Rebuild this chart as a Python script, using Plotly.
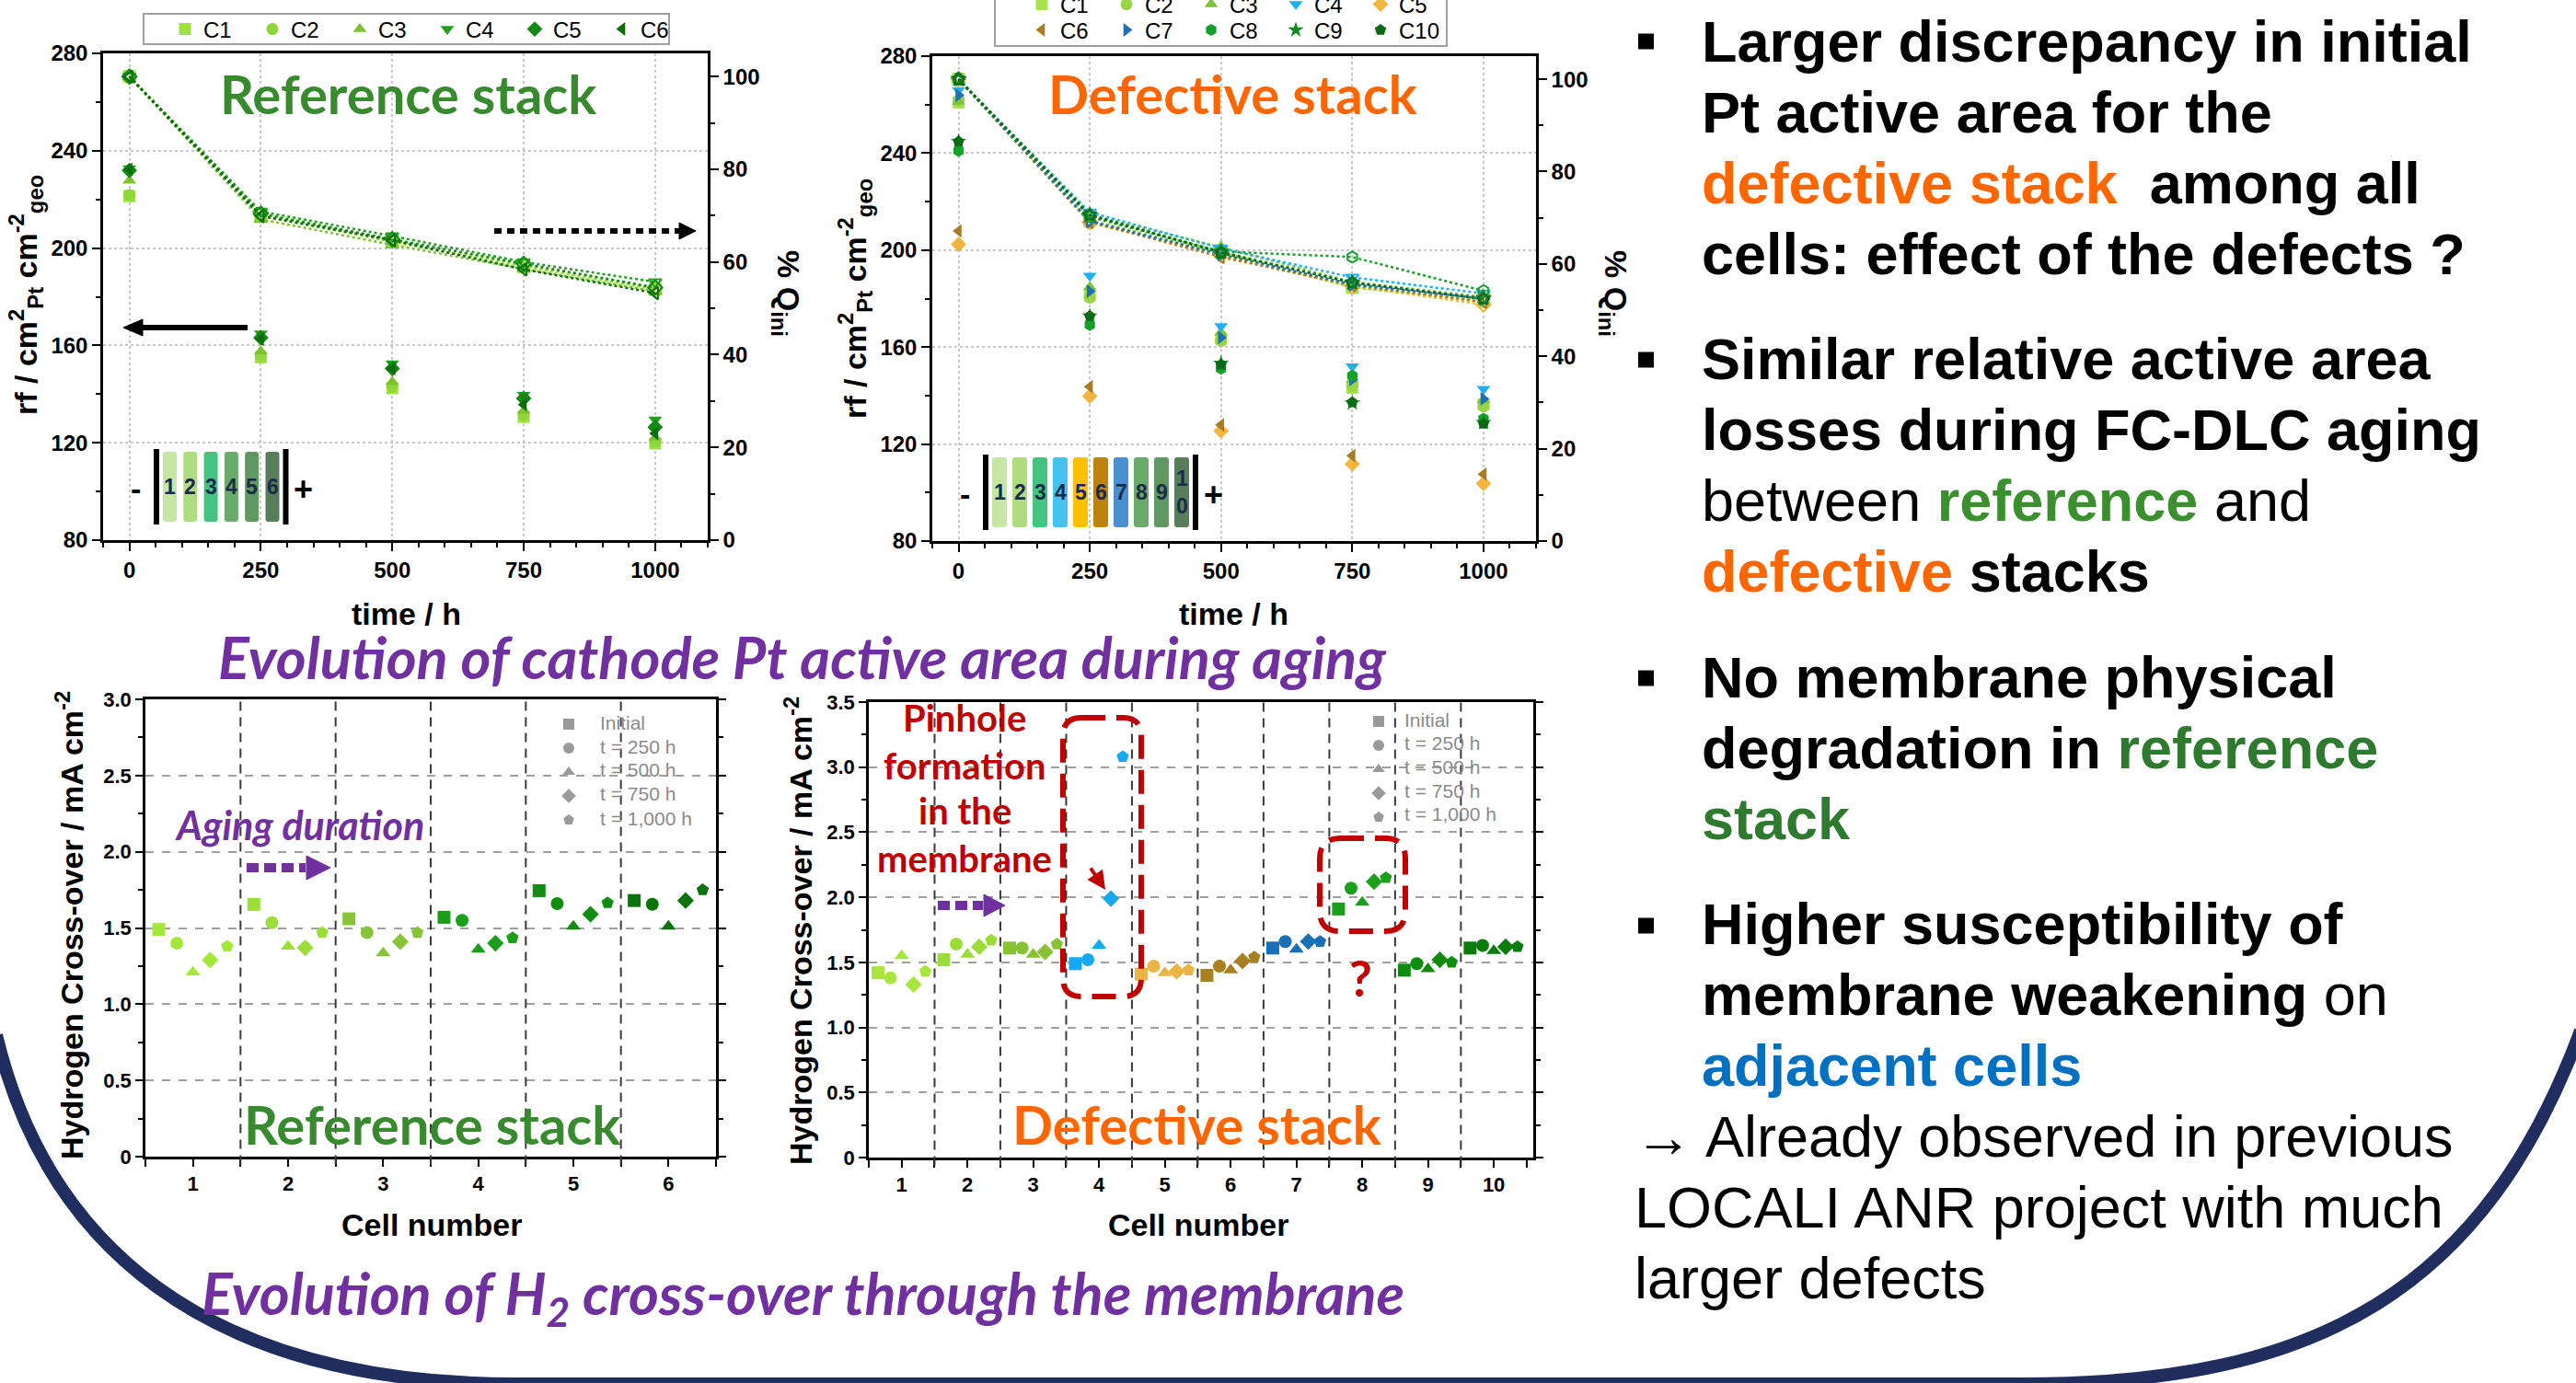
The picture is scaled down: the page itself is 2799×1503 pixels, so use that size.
import plotly.graph_objects as go

W, H = 2799, 1503

# ---------------- data : cathode Pt active area ----------------
time_h = [0, 250, 500, 750, 1000]

ref_names = ["C1", "C2", "C3", "C4", "C5", "C6"]
ref_rf_c1 = [221.3, 155.1, 142.4, 130.6, 119.7]
ref_rf_c2 = [221.8, 155.9, 143.3, 131.5, 120.5]
ref_rf_c3 = [227.7, 157.6, 145.0, 133.2, 122.2]
ref_rf_c4 = [232.7, 164.9, 152.6, 139.6, 129.5]
ref_rf_c5 = [231.9, 163.2, 150.5, 138.2, 126.4]
ref_rf_c6 = [232.4, 162.5, 150.4, 135.7, 123.9]
ref_q_c1 = [100, 70.0, 64.3, 59.0, 54.1]
ref_q_c2 = [100, 70.3, 64.6, 59.3, 54.3]
ref_q_c3 = [100, 69.2, 63.7, 58.5, 53.7]
ref_q_c4 = [100, 70.9, 65.6, 60.0, 55.7]
ref_q_c5 = [100, 70.4, 64.9, 59.6, 54.5]
ref_q_c6 = [100, 69.9, 64.7, 58.4, 53.3]

def_names = ["C1", "C2", "C3", "C4", "C5", "C6", "C7", "C8", "C9", "C10"]
def_rf_c1 = [260.9, 181.3, 163.5, 143.2, 136.4]
def_rf_c2 = [261.7, 180.4, 162.6, 144.0, 135.5]
def_rf_c3 = [261.2, 184.7, 166.0, 146.6, 138.1]
def_rf_c4 = [266.0, 189.4, 168.6, 152.0, 142.7]
def_rf_c5 = [202.4, 139.8, 125.4, 111.8, 103.7]
def_rf_c6 = [207.9, 143.7, 127.9, 115.2, 107.6]
def_rf_c7 = [263.9, 183.0, 164.0, 146.6, 138.6]
def_rf_c8 = [240.9, 169.1, 151.1, 148.2, 130.5]
def_rf_c9 = [244.8, 172.8, 153.3, 136.9, 128.8]
def_rf_c10 = [244.8, 172.8, 152.8, 137.2, 128.4]
def_q_c1 = [100, 69.5, 62.7, 54.9, 52.3]
def_q_c2 = [100, 68.9, 62.1, 55.0, 51.8]
def_q_c3 = [100, 70.7, 63.6, 56.1, 52.9]
def_q_c4 = [100, 71.2, 63.4, 57.1, 53.6]
def_q_c5 = [100, 69.1, 62.0, 55.2, 51.2]
def_q_c6 = [100, 69.1, 61.5, 55.4, 51.8]
def_q_c7 = [100, 69.3, 62.1, 55.6, 52.5]
def_q_c8 = [100, 70.2, 62.7, 61.5, 54.2]
def_q_c9 = [100, 70.6, 62.6, 55.9, 52.6]
def_q_c10 = [100, 70.6, 62.4, 56.0, 52.4]

# ---------------- data : H2 cross-over ----------------
h2_labels = ["Initial", "t = 250 h", "t = 500 h", "t = 750 h", "t = 1,000 h"]
cells_ref = [1, 2, 3, 4, 5, 6]
ref_h2_initial = [1.49, 1.655, 1.56, 1.57, 1.745, 1.68]
ref_h2_250 = [1.40, 1.535, 1.47, 1.55, 1.66, 1.655]
ref_h2_500 = [1.21, 1.38, 1.335, 1.36, 1.51, 1.51]
ref_h2_750 = [1.29, 1.37, 1.41, 1.40, 1.59, 1.68]
ref_h2_1000 = [1.38, 1.47, 1.47, 1.435, 1.665, 1.75]

cells_def = [1, 2, 3, 4, 5, 6, 7, 8, 9, 10]
def_h2_initial = [1.42, 1.52, 1.61, 1.49, 1.41, 1.40, 1.61, 1.91, 1.44, 1.61]
def_h2_250 = [1.38, 1.64, 1.61, 1.52, 1.47, 1.47, 1.66, 2.07, 1.49, 1.63]
def_h2_500 = [1.55, 1.56, 1.56, 1.63, 1.42, 1.44, 1.60, 1.96, 1.45, 1.59]
def_h2_750 = [1.33, 1.62, 1.58, 1.99, 1.43, 1.51, 1.66, 2.12, 1.52, 1.62]
def_h2_1000 = [1.43, 1.67, 1.64, 3.08, 1.44, 1.54, 1.66, 2.15, 1.50, 1.62]

# ---------------- styles ----------------
FA = "Liberation Sans, Arial, sans-serif"
FC = "Lato, Carlito, Calibri, sans-serif"
PURPLE = "#7030A0"
RED = "#C00000"
ORANGE = "#FF6600"
NAVY = "#1F2D5F"
GRAY_TXT = '#8a8a8a'

ref_colors = ['#9ee33c', '#8fd63a', '#7cc22e', '#1fa01f', '#118a11', '#0b6e0b']
ref_symbols = ['square', 'circle', 'triangle-up', 'triangle-down', 'diamond', 'triangle-left']
def_colors = ['#a6e34d', '#98d444', '#7cc53a', '#1eb0f3', '#f2b640', '#a87c26',
              '#1f6fb7', '#16a02b', '#0f8c1f', '#0a6b14']
def_symbols = ['square', 'circle', 'triangle-up', 'triangle-down', 'diamond', 'triangle-left',
               'triangle-right', 'hexagon', 'star', 'pentagon']
ref_cell_colors = ['#a4e83a', '#9cdf3a', '#88c43a', '#1c9e1c', '#128c12', '#0c720c']
def_cell_colors = ['#a8e63c', '#9cdc3a', '#86c234', '#16a8f0', '#ebb545', '#a8801e',
                   '#1a6fb5', '#1ca01c', '#0e8c0e', '#0c7a0c']
h2_symbols = ['square', 'circle', 'triangle-up', 'diamond', 'pentagon']
h2_offsets = [-0.36, -0.17, 0.0, 0.18, 0.36]


def px(x):
    return x / W


def py(y):
    return 1 - y / H


def P(x, y):
    return f"{x / W:.5f},{1 - y / H:.5f}"


fig = go.Figure()

# ---- top-left : reference stack ----
ref_rf = [ref_rf_c1, ref_rf_c2, ref_rf_c3, ref_rf_c4, ref_rf_c5, ref_rf_c6]
ref_q = [ref_q_c1, ref_q_c2, ref_q_c3, ref_q_c4, ref_q_c5, ref_q_c6]
for i, nm in enumerate(ref_names):
    c = ref_colors[i]
    fig.add_trace(go.Scatter(x=time_h, y=ref_q[i], xaxis='x', yaxis='y2', mode='lines+markers',
                             line=dict(color=c, width=2.5, dash='dot'),
                             marker=dict(symbol=ref_symbols[i] + '-open', size=12, color=c,
                                         line=dict(width=2, color=c)),
                             showlegend=False, name=nm))
for i, nm in enumerate(ref_names):
    c = ref_colors[i]
    fig.add_trace(go.Scatter(x=time_h, y=ref_rf[i], xaxis='x', yaxis='y', mode='markers',
                             marker=dict(symbol=ref_symbols[i], size=13, color=c),
                             name=nm, legend='legend'))

# ---- top-middle : defective stack ----
def_rf = [def_rf_c1, def_rf_c2, def_rf_c3, def_rf_c4, def_rf_c5, def_rf_c6, def_rf_c7,
          def_rf_c8, def_rf_c9, def_rf_c10]
def_q = [def_q_c1, def_q_c2, def_q_c3, def_q_c4, def_q_c5, def_q_c6, def_q_c7,
         def_q_c8, def_q_c9, def_q_c10]
for i, nm in enumerate(def_names):
    c = def_colors[i]
    fig.add_trace(go.Scatter(x=time_h, y=def_q[i], xaxis='x2', yaxis='y4', mode='lines+markers',
                             line=dict(color=c, width=2.5, dash='dot'),
                             marker=dict(symbol=def_symbols[i] + '-open', size=12, color=c,
                                         line=dict(width=2, color=c)),
                             showlegend=False, name=nm))
for i, nm in enumerate(def_names):
    c = def_colors[i]
    fig.add_trace(go.Scatter(x=time_h, y=def_rf[i], xaxis='x2', yaxis='y3', mode='markers',
                             marker=dict(symbol=def_symbols[i], size=13, color=c),
                             name=nm, legend='legend2' if i < 5 else 'legend3'))

# ---- bottom : H2 crossover ----
ref_h2 = [ref_h2_initial, ref_h2_250, ref_h2_500, ref_h2_750, ref_h2_1000]
def_h2 = [def_h2_initial, def_h2_250, def_h2_500, def_h2_750, def_h2_1000]
for k in range(5):
    fig.add_trace(go.Scatter(x=[c + h2_offsets[k] for c in cells_ref], y=ref_h2[k],
                             xaxis='x3', yaxis='y5', mode='markers',
                             marker=dict(symbol=h2_symbols[k], size=14, color=ref_cell_colors),
                             showlegend=False, name=h2_labels[k]))
    fig.add_trace(go.Scatter(x=[c + h2_offsets[k] for c in cells_def], y=def_h2[k],
                             xaxis='x4', yaxis='y6', mode='markers',
                             marker=dict(symbol=h2_symbols[k], size=14, color=def_cell_colors),
                             showlegend=False, name=h2_labels[k]))
# gray legend symbols (labels are written next to them as annotations)
for k in range(5):
    for lg, xa, ya in (('legend4', 'x3', 'y5'), ('legend5', 'x4', 'y6')):
        fig.add_trace(go.Scatter(x=[None], y=[None], xaxis=xa, yaxis=ya, mode='markers',
                                 marker=dict(symbol=h2_symbols[k], size=12, color='#9a9a9a'),
                                 name='', legend=lg))

# ---------------- axes ----------------
tickf_top = dict(family=FA, size=24, color='black', weight='bold')
tickf_bot = dict(family=FA, size=22, color='black', weight='bold')
AX = dict(showline=True, linecolor='black', linewidth=2.5, ticks='outside', tickcolor='black',
          tickwidth=2, zeroline=False)


def top_x(dom, anchor):
    return dict(AX, domain=dom, anchor=anchor, range=[-50, 1100], tickvals=time_h,
                ticklen=9, tickfont=tickf_top, mirror=True, showgrid=True, gridcolor='#c8c8c8',
                griddash='dot', gridwidth=1.5,
                minor=dict(dtick=50, tick0=0, ticklen=5, ticks='outside', tickcolor='black',
                           tickwidth=2, showgrid=False))


def top_y(dom, anchor):
    return dict(AX, domain=dom, anchor=anchor, range=[80, 280], tickvals=[80, 120, 160, 200, 240, 280],
                ticklen=9, tickfont=tickf_top, showgrid=True, gridcolor='#c8c8c8', griddash='dot',
                gridwidth=1.5,
                minor=dict(dtick=20, tick0=80, ticklen=5, ticks='outside', tickcolor='black',
                           tickwidth=2, showgrid=False))


def top_y_right(over, anchor):
    return dict(AX, overlaying=over, side='right', anchor=anchor, range=[0, 105],
                tickvals=[0, 20, 40, 60, 80, 100], ticklen=9, tickfont=tickf_top, showgrid=False,
                minor=dict(dtick=10, tick0=0, ticklen=5, ticks='outside', tickcolor='black',
                           tickwidth=2, showgrid=False))


def bot_x(dom, anchor, n, hi):
    return dict(AX, domain=dom, anchor=anchor, range=[0.5, hi], tickvals=list(range(1, n + 1)),
                ticklen=8, tickfont=tickf_bot, mirror=True, showgrid=False,
                minor=dict(dtick=1, tick0=0.5, ticklen=8, ticks='outside', tickcolor='black',
                           tickwidth=2, showgrid=False))


def bot_y(dom, anchor, top):
    vals = [v / 2 for v in range(0, int(top * 2) + 1)]
    txt = ['0' if v == 0 else f"{v:.1f}" for v in vals]
    return dict(AX, domain=dom, anchor=anchor, range=[0, top], tickvals=vals, ticktext=txt,
                ticklen=8, tickfont=tickf_bot, mirror='ticks', showgrid=True, gridcolor='#a0a0a0',
                griddash='dash', gridwidth=1.5,
                minor=dict(dtick=0.25, tick0=0, ticklen=5, ticks='outside', tickcolor='black',
                           tickwidth=2, showgrid=False))


layout = dict(
    width=W, height=H, margin=dict(l=0, r=0, t=0, b=0, autoexpand=False),
    paper_bgcolor='white', plot_bgcolor='white',
    xaxis=top_x([px(112), px(769)], 'y'),
    yaxis=top_y([py(587), py(58)], 'x'),
    yaxis2=top_y_right('y', 'x'),
    xaxis2=top_x([px(1013), px(1669)], 'y3'),
    yaxis3=top_y([py(588), py(61)], 'x2'),
    yaxis4=top_y_right('y3', 'x2'),
    xaxis3=bot_x([px(158), px(778)], 'y5', 6, 6.5),
    yaxis5=bot_y([py(1257), py(760)], 'x3', 3.0),
    xaxis4=bot_x([px(944), px(1666)], 'y6', 10, 10.6),
    yaxis6=bot_y([py(1258), py(763)], 'x4', 3.5),
)

leg_common = dict(bgcolor='rgba(0,0,0,0)', borderwidth=0, font=dict(family=FA, size=24, color='black'),
                  orientation='h', entrywidthmode='pixels', xanchor='left', yanchor='middle',
                  tracegroupgap=0, xref='container', yref='container')
layout['legend'] = dict(leg_common, x=px(181), y=py(32), entrywidth=50)
layout['legend2'] = dict(leg_common, x=px(1112), y=py(5), entrywidth=47)
layout['legend3'] = dict(leg_common, x=px(1112), y=py(33), entrywidth=47)
leg_gray = dict(bgcolor='rgba(0,0,0,0)', borderwidth=0, font=dict(family=FA, size=17.7, color=GRAY_TXT),
                orientation='v', xanchor='left', yanchor='top', tracegroupgap=0,
                xref='container', yref='container')
layout['legend4'] = dict(leg_gray, x=px(598), y=py(769))
layout['legend5'] = dict(leg_gray, x=px(1478), y=py(766))
fig.update_layout(**layout)

# ---------------- shapes ----------------
shapes = []


def rrect(x0, y0, x1, y1, r):
    return (f"M {P(x0 + r, y0)} L {P(x1 - r, y0)} Q {P(x1, y0)} {P(x1, y0 + r)} "
            f"L {P(x1, y1 - r)} Q {P(x1, y1)} {P(x1 - r, y1)} L {P(x0 + r, y1)} "
            f"Q {P(x0, y1)} {P(x0, y1 - r)} L {P(x0, y0 + r)} Q {P(x0, y0)} {P(x0 + r, y0)} Z")


def line_px(x0, y0, x1, y1, color, width, dash='solid'):
    return dict(type='line', xref='paper', yref='paper', x0=px(x0), y0=py(y0), x1=px(x1), y1=py(y1),
                line=dict(color=color, width=width, dash=dash))


def tri(p1, p2, p3, color):
    return dict(type='path', xref='paper', yref='paper',
                path=f"M {P(*p1)} L {P(*p2)} L {P(*p3)} Z", fillcolor=color,
                line=dict(color=color, width=1))


# legend boxes
shapes.append(dict(type='rect', xref='paper', yref='paper', x0=px(156), x1=px(727), y0=py(48), y1=py(15),
                   line=dict(color='#a0a0a0', width=2), fillcolor='white', layer='below'))
shapes.append(dict(type='rect', xref='paper', yref='paper', x0=px(1081), x1=px(1572), y0=py(50), y1=py(-12),
                   line=dict(color='#a0a0a0', width=2), fillcolor='white', layer='below'))

# cell separators in H2 plots
for b in [1.5, 2.5, 3.5, 4.5, 5.5]:
    shapes.append(dict(type='line', xref='x3', yref='y5 domain', x0=b, x1=b, y0=-0.017, y1=1,
                       line=dict(color='#3a3a3a', width=2, dash='10px,7px')))
for b in [1.5, 2.5, 3.5, 4.5, 5.5, 6.5, 7.5, 8.5, 9.5]:
    shapes.append(dict(type='line', xref='x4', yref='y6 domain', x0=b, x1=b, y0=-0.017, y1=1,
                       line=dict(color='#3a3a3a', width=2, dash='10px,7px')))

# arrows top-left
shapes.append(line_px(269, 356, 150, 356, 'black', 6))
shapes.append(tri((134, 356), (155, 347), (155, 365), 'black'))
shapes.append(line_px(537, 251, 738, 251, 'black', 6, '8px,6px'))
shapes.append(tri((756, 251), (738, 242), (738, 260), 'black'))

# purple arrows
shapes.append(line_px(268, 943, 332, 943, PURPLE, 10, '13px,6px'))
shapes.append(tri((359, 943), (333, 930), (333, 956), PURPLE))
shapes.append(line_px(1019, 984, 1068, 984, PURPLE, 10, '13px,6px'))
shapes.append(tri((1092, 984), (1069, 972), (1069, 996), PURPLE))

# red dashed boxes
for (x0, y0, x1, y1, r) in [(1155, 780, 1240, 1083, 20), (1434, 911, 1527, 1012, 22)]:
    shapes.append(dict(type='path', xref='paper', yref='paper', path=rrect(x0, y0, x1, y1, r),
                       line=dict(color=RED, width=6, dash='26px,12px')))

# stack insets
ref_stack_colors = ['#c6e7a3', '#b0dc80', '#44c480', '#6aaa6a', '#5f9860', '#577d5a']
def_stack_colors = ['#c6e7a3', '#b0dc80', '#44c480', '#45c3f0', '#ffc000', '#c0820e',
                    '#4a90d0', '#6aaa6a', '#5f9860', '#577d5a']
annots = []


def T(x, y, text, size, color='black', family=FA, xanchor='center', yanchor='middle', angle=0):
    return dict(x=px(x), y=py(y), xref='paper', yref='paper', text=text, showarrow=False,
                font=dict(size=size, color=color, family=family), xanchor=xanchor,
                yanchor=yanchor, textangle=angle)


def stack(x_left_bar, y0, y1, colors, step, bw):
    shapes.append(dict(type='rect', xref='paper', yref='paper', x0=px(x_left_bar), x1=px(x_left_bar + 6),
                       y0=py(y1 + 3), y1=py(y0 - 3), fillcolor='black', line=dict(width=0)))
    x = x_left_bar + 10
    for i, c in enumerate(colors):
        shapes.append(dict(type='path', xref='paper', yref='paper', path=rrect(x, y0, x + bw, y1, 3),
                           fillcolor=c, line=dict(width=0)))
        if i < 9:
            annots.append(T(x + bw / 2, (y0 + y1) / 2, f"<b>{i + 1}</b>", 23, '#1a2b4c'))
        else:
            annots.append(T(x + bw / 2, (y0 + y1) / 2 - 15, "<b>1</b>", 23, '#1a2b4c'))
            annots.append(T(x + bw / 2, (y0 + y1) / 2 + 15, "<b>0</b>", 23, '#1a2b4c'))
        x += step
    xr = x - step + bw + 4
    shapes.append(dict(type='rect', xref='paper', yref='paper', x0=px(xr), x1=px(xr + 6),
                       y0=py(y1 + 3), y1=py(y0 - 3), fillcolor='black', line=dict(width=0)))
    annots.append(T(x_left_bar - 20, (y0 + y1) / 2 + 2, "<b>-</b>", 34))
    annots.append(T(xr + 22, (y0 + y1) / 2 + 2, "<b>+</b>", 36))


stack(167, 491, 567, ref_stack_colors, 22.3, 15)
stack(1068, 497, 573, def_stack_colors, 22.0, 16)

# navy arc frame
arc = (f"M {P(-4, 1125)} C {P(50, 1350)} {P(220, 1504)} {P(560, 1504)} L {P(2200, 1504)} "
       f"C {P(2520, 1504)} {P(2700, 1400)} {P(2804, 1120)}")
shapes.append(dict(type='path', xref='paper', yref='paper', path=arc, line=dict(color=NAVY, width=14)))

# gray legend labels
for k, lab in enumerate(h2_labels):
    annots.append(T(650, 785 + 26 * k, lab, 21, GRAY_TXT, FA, xanchor='left'))
    annots.append(T(1524, 782 + 25.7 * k, lab, 21, GRAY_TXT, FA, xanchor='left'))

# ---------------- annotations ----------------
annots += [
    T(444, 101, "<b>Reference stack</b>", 58, '#378B2E', FC),
    T(1339, 101, "<b>Defective stack</b>", 58, ORANGE, FC),
    T(469, 1221, "<b>Reference stack</b>", 58, '#378B2E', FC),
    T(1300, 1221, "<b>Defective stack</b>", 58, ORANGE, FC),
    T(28, 321, "<b>rf / cm<sup>2</sup><sub>Pt</sub> cm<sup>-2</sup><sub>geo</sub></b>", 34, angle=-90),
    T(929, 325, "<b>rf / cm<sup>2</sup><sub>Pt</sub> cm<sup>-2</sup><sub>geo</sub></b>", 34, angle=-90),
    T(855, 319, "<b>% Q<sub>ini</sub></b>", 34, angle=90),
    T(1754, 319, "<b>% Q<sub>ini</sub></b>", 34, angle=90),
    T(441, 667, "<b>time / h</b>", 34),
    T(1340, 667, "<b>time / h</b>", 34),
    T(469, 1331, "<b>Cell number</b>", 34),
    T(1302, 1331, "<b>Cell number</b>", 34),
    T(75, 1006, "<b>Hydrogen Cross-over / mA cm<sup>-2</sup></b>", 34, angle=-90),
    T(867, 1011, "<b>Hydrogen Cross-over / mA cm<sup>-2</sup></b>", 34, angle=-90),
    T(872, 713, "<b><i>Evolution of cathode Pt active area during aging</i></b>", 63, PURPLE, FC),
    T(872, 1409, "<b><i>Evolution of H<sub>2</sub> cross-over through the membrane</i></b>", 63, PURPLE, FC),
    T(325, 896, "<b><i>Aging duration</i></b>", 43, PURPLE, FC),
    T(1048, 780, "<b>Pinhole</b>", 40, RED, FC),
    T(1048, 832, "<b>formation</b>", 40, RED, FC),
    T(1048, 881, "<b>in the</b>", 40, RED, FC),
    T(1048, 933, "<b>membrane</b>", 40, RED, FC),
    T(1478, 1062, "<b>?</b>", 54, RED, FC),
]
annots.append(dict(x=px(1201), y=py(967), xref='paper', yref='paper', text='', showarrow=True,
                   ax=-17, ay=-25, arrowcolor=RED, arrowwidth=4, arrowhead=2, arrowsize=1))

# right-hand text
GREEN2 = '#3B8F2E'
GREEN3 = '#2E7A2E'
BLUE = '#0070C0'
right_lines = [
    (1847, 67, "<b>Larger discrepancy in initial</b>"),
    (1847, 144, "<b>Pt active area for the</b>"),
    (1847, 221, f"<b><span style='color:{ORANGE}'>defective stack</span> \u00a0among all</b>"),
    (1847, 298, "<b>cells: effect of the defects ?</b>"),
    (1847, 412, "<b>Similar relative active area</b>"),
    (1847, 489, "<b>losses during FC-DLC aging</b>"),
    (1847, 566, f"between <b><span style='color:{GREEN2}'>reference</span></b> and"),
    (1847, 643, f"<b><span style='color:{ORANGE}'>defective</span> stacks</b>"),
    (1847, 758, "<b>No membrane physical</b>"),
    (1847, 835, f"<b>degradation in <span style='color:{GREEN3}'>reference</span></b>"),
    (1847, 912, f"<b><span style='color:{GREEN3}'>stack</span></b>"),
    (1847, 1026, "<b>Higher susceptibility of</b>"),
    (1847, 1103, "<b>membrane weakening</b> on"),
    (1847, 1180, f"<b><span style='color:{BLUE}'>adjacent cells</span></b>"),
    (1774, 1257, "\u2192 Already observed in previous"),
    (1774, 1334, "LOCALI ANR project with much"),
    (1774, 1411, "larger defects"),
]
for x, base, txt in right_lines:
    annots.append(T(x, base - 22, txt, 63, 'black', FA, xanchor='left'))
for base in [45, 391, 737, 1006]:
    shapes.append(dict(type='rect', xref='paper', yref='paper', x0=px(1780), x1=px(1797),
                       y0=py(base + 8.5), y1=py(base - 8.5), fillcolor='black', line=dict(width=0)))

fig.update_layout(shapes=shapes, annotations=annots)
fig.write_html("out.html")
